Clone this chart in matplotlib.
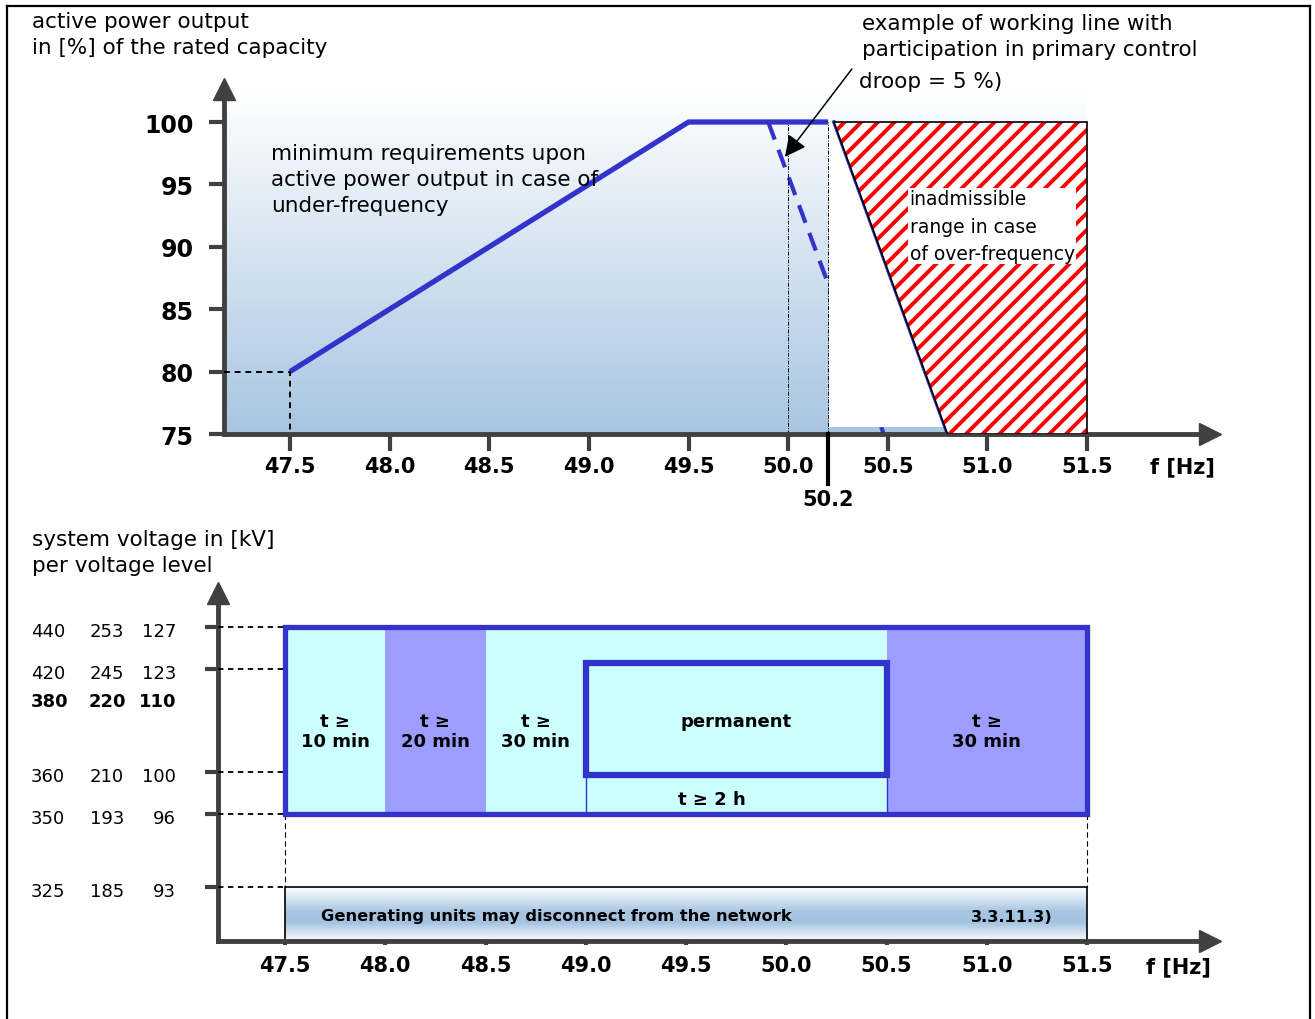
import numpy as np
import matplotlib.pyplot as plt
from matplotlib.patches import Rectangle, Polygon
from matplotlib.lines import Line2D
from matplotlib.colors import LinearSegmentedColormap
import matplotlib.transforms as mtransforms

plt.rcParams['font.family'] = ['DejaVu Sans']
plt.rcParams['hatch.linewidth'] = 2.8

# ---- data: upper chart (active power vs frequency) ----
freq_ticks = [47.5, 48.0, 48.5, 49.0, 49.5, 50.0, 50.5, 51.0, 51.5]
power_ticks = [75, 80, 85, 90, 95, 100]

min_req_f = [47.5, 49.5, 50.2]          # minimum requirement (under-frequency)
min_req_p = [80, 100, 100]
edge_f = [50.23, 50.8]                  # continuation hidden under the hatch
edge_p = [100, 75]
droop_f = [49.9, 50.48]                 # example working line, droop 5 %
droop_p = [100, 75]
inadm_f = [50.23, 51.5, 51.5, 50.8]     # inadmissible range (over-frequency)
inadm_p = [100, 100, 75, 75]
f_marker = 50.2
f_ref = 50.0

# ---- data: lower chart (voltage vs frequency) ----
volt_380 = ['440', '420', '380', '360', '350', '325']
volt_220 = ['253', '245', '220', '210', '193', '185']
volt_110 = ['127', '123', '110', '100', '96', '93']
volt_pos = [314, 272, 244, 169, 127, 54]     # schematic heights, not to scale
volt_tick = [True, True, False, True, True, True]

band_edges = [47.5, 48.0, 48.5, 49.0, 50.5, 51.5]
band_kind = ['c', 'p', 'c', 'c', 'p']
band_labels = ['t ≥\n10 min', 't ≥\n20 min', 't ≥\n30 min', '', 't ≥\n30 min']
perm_f = [49.0, 50.5]

BLUE = '#3333cc'
AX = '#404040'
CYAN = '#ccffff'
PURP = '#9d9dff'

W, H = 1315, 1020
fig = plt.figure(figsize=(W / 100, H / 100), dpi=100)


def px_axes(l, t, r, b):
    return fig.add_axes([l / W, 1 - b / H, (r - l) / W, (b - t) / H])


def style_axes(ax):
    ax.set_facecolor('none')
    for s in ['top', 'right']:
        ax.spines[s].set_visible(False)
    for s in ['left', 'bottom']:
        ax.spines[s].set_color(AX)
        ax.spines[s].set_linewidth(3.5)
    ax.plot(1, 0, '>', ms=16, color=AX, transform=ax.transAxes, clip_on=False, zorder=10)
    ax.plot(0, 1, '^', ms=16, color=AX, transform=ax.transAxes, clip_on=False, zorder=10)


# frame
for xs, ys in [([7, 7], [7, 1025]), ([7, 1310], [7, 7]), ([1310, 1310], [7, 1025])]:
    fig.add_artist(Line2D([x / W for x in xs], [1 - y / H for y in ys], color='black', lw=1.6))

# ================= upper chart =================
# pixel mapping: f 47.5 -> 290, 199.25 px/Hz ; p 75 -> 435, 12.48 px/%
ax1 = px_axes(224, 90, 1210, 435)
ax1.set_xlim(47.5 + (224 - 290) / 199.25, 47.5 + (1210 - 290) / 199.25)
ax1.set_ylim(75, 75 + (435 - 90) / 12.48)
style_axes(ax1)

bg = LinearSegmentedColormap.from_list('bg', ['#ffffff', '#a0c0df'])
ax1.imshow(np.linspace(0.92, 0, 256)[:, None], cmap=bg, aspect='auto', origin='lower',
           vmin=0, vmax=1, extent=[ax1.get_xlim()[0], 51.5, 75, ax1.get_ylim()[1]], zorder=0)

ax1.plot(droop_f, droop_p, color=BLUE, lw=3, dashes=(4.5, 2.6), zorder=2)
for fx in [f_ref, f_marker]:
    ax1.plot([fx, fx], [75, 100], color='black', lw=0.7, ls=(0, (4, 1.5, 1, 1.5)), zorder=2)
ax1.add_patch(Rectangle((f_marker + 0.005, 75.56), 51.5 - f_marker, 100 - 75.56,
                        facecolor='white', edgecolor='none', zorder=3))
ax1.plot(edge_f, edge_p, color=BLUE, lw=2.6, zorder=4)
ax1.add_patch(Polygon(list(zip(inadm_f, inadm_p)), facecolor='white', edgecolor='red',
                      hatch='//', lw=0, zorder=5))
ax1.add_patch(Polygon(list(zip(inadm_f, inadm_p)), fill=False, edgecolor='black', lw=1.2, zorder=6))
ax1.plot(min_req_f, min_req_p, color=BLUE, lw=3.8, solid_capstyle='butt', zorder=7)

ax1.plot([ax1.get_xlim()[0], 47.5, 47.5], [80, 80, 75], color='black', lw=1.4,
         dashes=(3, 2.5), zorder=7)
ax1.plot([f_marker, f_marker], [75, 71.0], color='black', lw=3, clip_on=False, zorder=8)
ax1.text(f_marker, 69.8, '50.2', ha='center', va='center', fontsize=15, fontweight='bold')

ax1.set_xticks(freq_ticks, [f'{v:.1f}' for v in freq_ticks], fontsize=15, fontweight='bold')
ax1.set_yticks(power_ticks, [str(v) for v in power_ticks], fontsize=17, fontweight='bold')
ax1.tick_params(axis='x', length=12, width=3, color=AX, pad=4)
ax1.tick_params(axis='y', length=11, width=3, color=AX, pad=11)
ax1.text(1182 / W, 1 - 467 / H, 'f [Hz]', transform=fig.transFigure, ha='center', va='center',
         fontsize=15, fontweight='bold')

ax1.text(47.405, 98.35, 'minimum requirements upon\nactive power output in case of\nunder-frequency',
         ha='left', va='top', fontsize=15.5, linespacing=1.38, zorder=9)
ax1.text(50.61, 91.65, 'inadmissible\nrange in case\nof over-frequency', ha='left', va='center',
         fontsize=13.5, linespacing=1.55, zorder=9,
         bbox=dict(facecolor='white', edgecolor='none', pad=1))
ax1.annotate('', xy=(49.984, 97.2), xytext=(50.32, 104.25), annotation_clip=False,
             arrowprops=dict(arrowstyle='-|>', color='black', lw=1.1, mutation_scale=32,
                             shrinkA=0, shrinkB=0), zorder=9)

fig.text(32 / W, 1 - 12 / H, 'active power output\nin [%] of the rated capacity', ha='left', va='top',
         fontsize=15.5, linespacing=1.36)
fig.text(862 / W, 1 - 14 / H, 'example of working line with\nparticipation in primary control',
         ha='left', va='top', fontsize=15.5, linespacing=1.36)
fig.text(859 / W, 1 - 82 / H, 'droop = 5 %)', ha='left', va='center', fontsize=15.5)

# ================= lower chart =================
# pixel mapping: f 47.5 -> 285, 200.5 px/Hz ; height = 942 - py
ax2 = px_axes(218, 594, 1210, 942)
ax2.set_xlim(47.5 + (218 - 285) / 200.5, 47.5 + (1210 - 285) / 200.5)
ax2.set_ylim(0, 942 - 594)
style_axes(ax2)
x0 = ax2.get_xlim()[0]
top, bot = volt_pos[0], volt_pos[4]
p_top, p_bot = volt_pos[1] + 6, volt_pos[3] - 3

for i in range(len(band_kind)):
    f1, f2 = band_edges[i], band_edges[i + 1]
    ax2.add_patch(Rectangle((f1, bot), f2 - f1, top - bot, facecolor=CYAN if band_kind[i] == 'c' else PURP,
                            edgecolor='none', zorder=1))
    if band_labels[i]:
        ax2.text((f1 + f2) / 2, 210, band_labels[i], ha='center', va='center', fontsize=13,
                 fontweight='bold', linespacing=1.1, zorder=5)

for fx in perm_f:
    ax2.plot([fx, fx], [bot, p_bot], color=BLUE, lw=1, zorder=2)
ax2.add_patch(Rectangle((perm_f[0], p_bot), perm_f[1] - perm_f[0], p_top - p_bot, fill=False,
                        edgecolor=BLUE, lw=4.5, joinstyle='miter', zorder=4))
ax2.add_patch(Rectangle((band_edges[0], bot), band_edges[-1] - band_edges[0], top - bot, fill=False,
                        edgecolor=BLUE, lw=3.8, joinstyle='miter', zorder=4))
ax2.text(sum(perm_f) / 2, 220, 'permanent', ha='center', va='center', fontsize=13,
         fontweight='bold', zorder=5)
ax2.text(49.63, 142, 't ≥ 2 h', ha='center', va='center', fontsize=13,
         fontweight='bold', zorder=5)

# bottom band: units may disconnect
bar = LinearSegmentedColormap.from_list('bar', [(0, '#fbfcfe'), (0.35, '#a3c2e0'), (0.55, '#a8c6e2'),
                                                (1, '#ffffff')])
ax2.imshow(np.linspace(0, 1, 256)[:, None], cmap=bar, aspect='auto', origin='lower',
           extent=[band_edges[0], band_edges[-1], 0, volt_pos[5]], zorder=1)
ax2.add_patch(Rectangle((band_edges[0], 0), band_edges[-1] - band_edges[0], volt_pos[5], fill=False,
                        edgecolor='black', lw=1.2, zorder=2))
ax2.text(47.68, 25, 'Generating units may disconnect from the network', ha='left', va='center',
         fontsize=11.7, fontweight='bold', zorder=3)
ax2.text(50.92, 25, '3.3.11.3)', ha='left', va='center', fontsize=11.7, fontweight='bold', zorder=3)

for fx in [band_edges[0], band_edges[-1]]:
    ax2.plot([fx, fx], [bot, volt_pos[5]], color='black', lw=0.8, dashes=(5, 3), zorder=2)

ytick_pos = [p for p, t in zip(volt_pos, volt_tick) if t]
for p in ytick_pos:
    ax2.plot([x0, band_edges[0]], [p, p], color='black', lw=1.3, dashes=(3, 2.5), zorder=3)

ax2.set_yticks(ytick_pos, [''] * len(ytick_pos))
ax2.tick_params(axis='y', length=9.5, width=3, color=AX)
ax2.set_xticks(freq_ticks, [f'{v:.1f}' for v in freq_ticks], fontsize=15, fontweight='bold')
ax2.tick_params(axis='x', length=3, width=3, color=AX, pad=7)

lab_tr = mtransforms.blended_transform_factory(fig.transFigure, ax2.transData)
for i in range(len(volt_pos)):
    w = 'bold' if not volt_tick[i] else 'normal'
    ax2.text(31 / W, volt_pos[i] - 4, volt_380[i], transform=lab_tr, ha='left', va='center',
             fontsize=13, fontweight=w)
    ax2.text(107 / W, volt_pos[i] - 4, volt_220[i], transform=lab_tr, ha='center', va='center',
             fontsize=13, fontweight=w)
    ax2.text(176 / W, volt_pos[i] - 4, volt_110[i], transform=lab_tr, ha='right', va='center',
             fontsize=13, fontweight=w)

fig.text(1178 / W, 1 - 967 / H, 'f [Hz]', ha='center', va='center', fontsize=15, fontweight='bold')
fig.text(32 / W, 1 - 530 / H, 'system voltage in [kV]\nper voltage level', ha='left', va='top',
         fontsize=15.5, linespacing=1.36)

fig.savefig('out.png', dpi=100)
